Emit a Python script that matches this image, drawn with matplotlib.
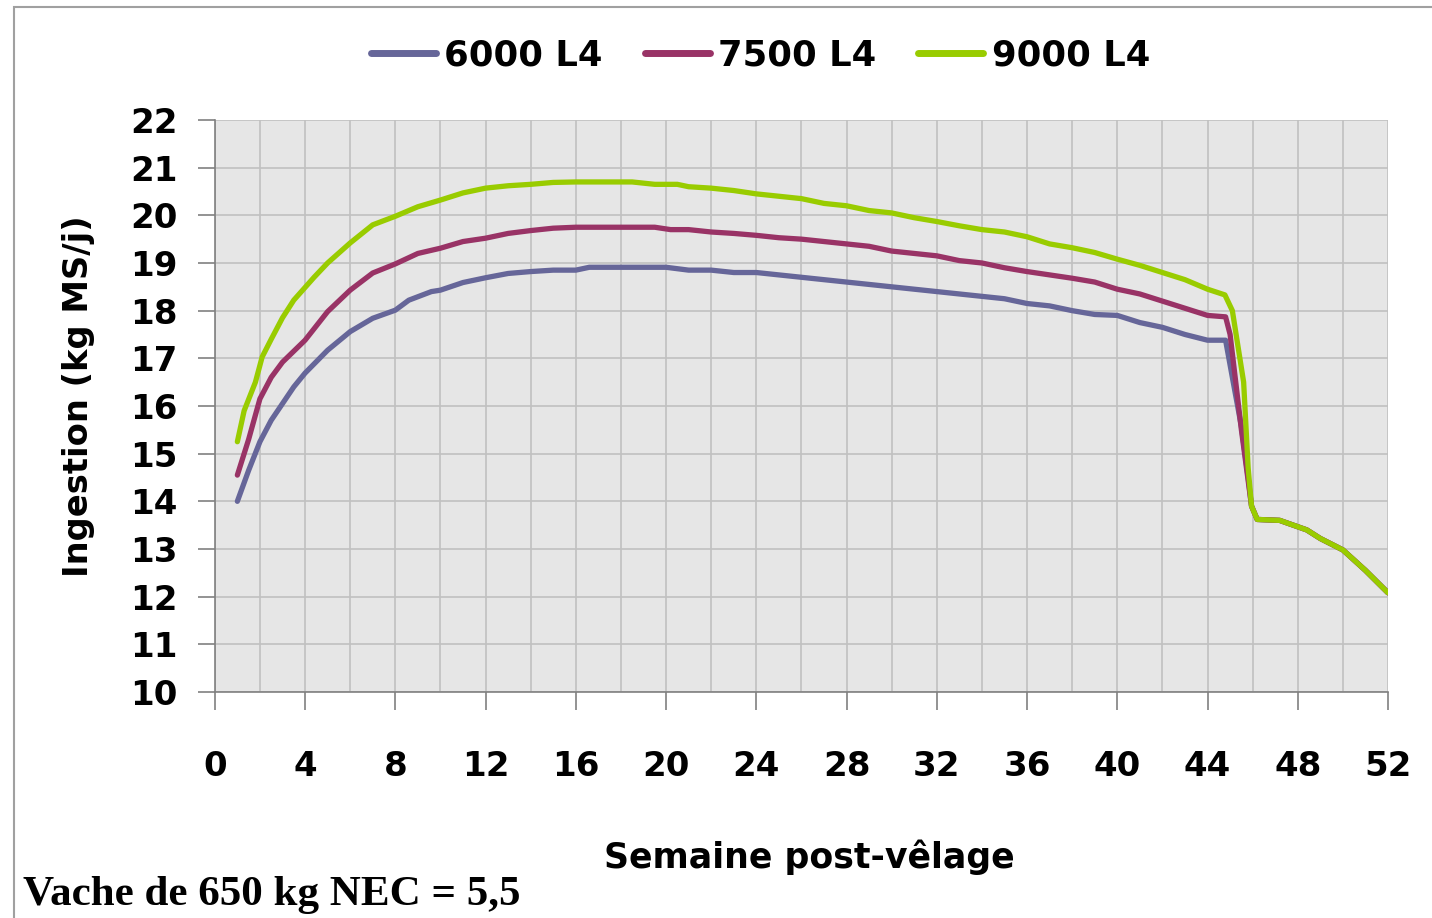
import matplotlib.pyplot as plt
import matplotlib.patches as mpatches

# weeks after calving
x_6000 = [1, 1.5, 2, 2.5, 3, 3.5, 4, 5, 6, 7, 8, 8.6, 9.6, 10, 11, 12, 13, 14, 15, 16,
          16.6, 18, 19, 20, 20.5, 21, 22, 23, 24, 25, 26, 27, 28, 29, 30, 31, 32, 33,
          34, 35, 36, 37, 38, 39, 40, 41, 42, 43, 44, 44.8, 45.1, 45.5, 45.8, 45.95, 46.2]
y_6000 = [14.0, 14.65, 15.25, 15.7, 16.05, 16.4, 16.69, 17.17, 17.56, 17.84, 18.01, 18.22,
          18.4, 18.43, 18.59, 18.69, 18.78, 18.82, 18.85, 18.85, 18.91, 18.91, 18.91, 18.91,
          18.88, 18.85, 18.85, 18.8, 18.8, 18.75, 18.7, 18.65, 18.6, 18.55, 18.5, 18.45,
          18.4, 18.35, 18.3, 18.25, 18.15, 18.1, 18.0, 17.92, 17.9, 17.75, 17.65, 17.5,
          17.38, 17.38, 16.6, 15.57, 14.5, 13.9, 13.62]

x_7500 = [1, 1.5, 2, 2.5, 3, 4, 5, 6, 7, 8, 9, 10, 11, 12, 13, 14, 15, 16, 17, 18, 19.5,
          20.2, 21, 22, 23, 24, 25, 26, 27, 28, 29, 30, 31, 32, 33, 34, 35, 36, 37, 38,
          39, 40, 41, 42, 43, 44, 44.8, 45.0, 45.5, 45.95, 46.2]
y_7500 = [14.55, 15.3, 16.15, 16.6, 16.92, 17.38, 17.98, 18.43, 18.79, 18.98, 19.2, 19.31,
          19.45, 19.52, 19.62, 19.68, 19.73, 19.75, 19.75, 19.75, 19.75, 19.7, 19.7, 19.65,
          19.62, 19.58, 19.53, 19.5, 19.45, 19.4, 19.35, 19.25, 19.2, 19.15, 19.05, 19.0,
          18.9, 18.82, 18.75, 18.68, 18.6, 18.45, 18.35, 18.2, 18.05, 17.9, 17.87, 17.5,
          15.5, 13.9, 13.62]

x_9000 = [1, 1.3, 1.8, 2.1, 2.5, 3, 3.5, 4.4, 5, 6, 7, 8, 9, 10, 11, 12, 13, 14, 15, 16,
          17, 18.5, 19.5, 20.5, 21, 22, 23, 24, 25, 26, 27, 28, 29, 30, 31, 32, 33, 34, 35,
          36, 37, 38, 39, 40, 41, 42, 43, 44, 44.77, 45.1, 45.6, 45.8, 45.95, 46.2]
y_9000 = [15.25, 15.9, 16.5, 17.03, 17.4, 17.85, 18.22, 18.7, 19.0, 19.42, 19.8, 19.98,
          20.18, 20.32, 20.47, 20.57, 20.62, 20.65, 20.69, 20.7, 20.7, 20.7, 20.65, 20.65,
          20.6, 20.57, 20.52, 20.45, 20.4, 20.35, 20.25, 20.2, 20.1, 20.05, 19.95, 19.87,
          19.78, 19.7, 19.65, 19.55, 19.4, 19.32, 19.22, 19.08, 18.95, 18.8, 18.65, 18.45,
          18.33, 18.0, 16.5, 14.7, 13.9, 13.62]

# common tail after drying off
x_tail = [46.2, 47.2, 48.4, 49, 50, 51, 52]
y_tail = [13.62, 13.6, 13.4, 13.22, 12.98, 12.55, 12.08]

labels = ['6000 L4', '7500 L4', '9000 L4']
colors = ['#666699', '#993366', '#99cc00']

fig = plt.figure(figsize=(14.32, 9.18), dpi=100)
ax = fig.add_axes([0.150, 0.2462, 0.8193, 0.6231])
ax.set_facecolor('#e6e6e6')

series = [(x_6000, y_6000), (x_7500, y_7500), (x_9000, y_9000)]
for (xs, ys), lab, c in zip(series, labels, colors):
    ax.plot(xs + x_tail[1:], ys + y_tail[1:], color=c, lw=3.8, label=lab,
            solid_capstyle='round', solid_joinstyle='round')

ax.set_xlim(0, 52)
ax.set_ylim(10, 22)
ax.set_xticks(range(0, 53, 2), minor=True)
ax.set_xticks(range(0, 53, 4))
ax.set_yticks(range(10, 23))
ax.grid(True, which='both', color='#c0c0c0', lw=1.2)
ax.set_axisbelow(True)
ax.tick_params(axis='x', which='minor', length=0)
ax.tick_params(axis='x', which='major', length=13, width=1.2, color='#808080', pad=29)
ax.tick_params(axis='y', length=12, width=1.2, color='#808080', pad=15)
for t in ax.get_xticklabels() + ax.get_yticklabels():
    t.set_fontfamily('DejaVu Sans')
    t.set_fontweight('bold')
    t.set_fontsize(24.5)
for s in ['top', 'right']:
    ax.spines[s].set_visible(False)
for s in ['left', 'bottom']:
    ax.spines[s].set_color('#808080')
    ax.spines[s].set_linewidth(1.2)

ax.set_xlabel('Semaine post-vêlage', fontsize=25, fontweight='bold',
              family='DejaVu Sans', va='top')
ax.xaxis.set_label_coords(0.507, -0.2587)
ax.set_ylabel('Ingestion (kg MS/j)', fontsize=24.3, fontweight='bold',
              family='DejaVu Sans', va='bottom')
ax.yaxis.set_label_coords(-0.1023, 0.5166)

leg = fig.legend(loc='center', bbox_to_anchor=(0.531, 0.940), ncol=3, frameon=False,
                 handlelength=1.84, columnspacing=1.19, handletextpad=0.23,
                 prop={'family': 'DejaVu Sans', 'weight': 'bold', 'size': 25.5})
for h in leg.get_lines():
    h.set_linewidth(5)

fig.text(0.016, 0.0142, 'Vache de 650 kg NEC = 5,5', fontsize=31, fontweight='bold',
         family='Liberation Serif', ha='left', va='baseline')

# outer frame
fig.patches.append(mpatches.Rectangle((0.0098, -0.01), 1.0, 1.001 - 0.0087 + 0.01,
                                      transform=fig.transFigure, fill=False,
                                      edgecolor='#a0a0a0', lw=1.5))

fig.savefig('out.png', dpi=100)
